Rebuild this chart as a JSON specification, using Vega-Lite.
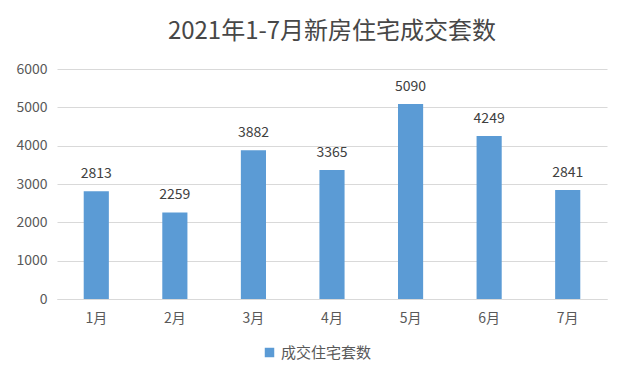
{
  "$schema": "https://vega.github.io/schema/vega-lite/v6.json",
  "width": 550,
  "height": 230,
  "autosize": {"type": "none"},
  "padding": {"left": 57, "top": 69, "right": 33, "bottom": 85},
  "background": "white",
  "config": {
    "view": {"stroke": null},
    "font": "Noto Sans CJK SC"
  },
  "title": {
    "text": "2021年1-7月新房住宅成交套数",
    "fontSize": 24,
    "fontWeight": "normal",
    "color": "#474747",
    "offset": 18,
    "anchor": "middle",
    "font": "Noto Sans CJK SC"
  },
  "data": {
    "values": [
      {"month": "1月", "value": 2813, "series": "成交住宅套数"},
      {"month": "2月", "value": 2259, "series": "成交住宅套数"},
      {"month": "3月", "value": 3882, "series": "成交住宅套数"},
      {"month": "4月", "value": 3365, "series": "成交住宅套数"},
      {"month": "5月", "value": 5090, "series": "成交住宅套数"},
      {"month": "6月", "value": 4249, "series": "成交住宅套数"},
      {"month": "7月", "value": 2841, "series": "成交住宅套数"}
    ]
  },
  "encoding": {
    "x": {
      "field": "month",
      "type": "nominal",
      "sort": null,
      "scale": {"paddingInner": 0.68, "paddingOuter": 0.34},
      "axis": {
        "title": null,
        "labelAngle": 0,
        "labelFontSize": 14,
        "labelColor": "#595959",
        "labelPadding": 12,
        "ticks": false,
        "domainColor": "#d9d9d9",
        "grid": false
      }
    },
    "y": {
      "field": "value",
      "type": "quantitative",
      "scale": {"domain": [0, 6000]},
      "axis": {
        "title": null,
        "values": [0, 1000, 2000, 3000, 4000, 5000, 6000],
        "format": "d",
        "labelFontSize": 14,
        "labelColor": "#595959",
        "labelPadding": 10,
        "ticks": false,
        "domain": false,
        "gridColor": "#d9d9d9"
      }
    }
  },
  "layer": [
    {
      "mark": {"type": "bar", "color": "#5B9BD5"},
      "encoding": {
        "color": {
          "field": "series",
          "type": "nominal",
          "scale": {"range": ["#5B9BD5"]},
          "legend": {
            "title": null,
            "orient": "none",
            "legendX": 205,
            "legendY": 276,
            "direction": "horizontal",
            "symbolType": "square",
            "symbolSize": 90,
            "labelFontSize": 15,
            "labelColor": "#595959"
          }
        }
      }
    },
    {
      "mark": {"type": "text", "dy": -10, "fontSize": 14, "color": "#404040", "baseline": "bottom"},
      "encoding": {
        "text": {"field": "value", "type": "quantitative", "format": "d"}
      }
    }
  ]
}
